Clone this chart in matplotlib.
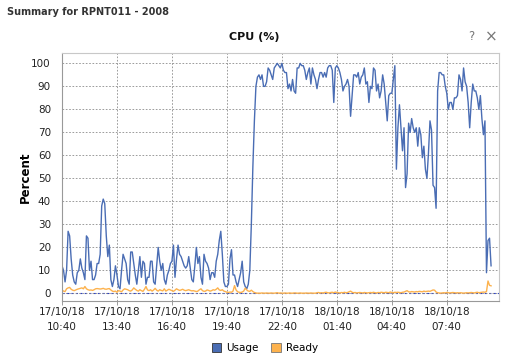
import numpy as np
import pandas as pd
import matplotlib
matplotlib.use('Agg')
import matplotlib.pyplot as plt
import matplotlib.dates as mdates
from matplotlib.patches import Patch

# CPU samples every 5 minutes, starting 17/10/18 10:40
start = '2018-10-17 10:40'
step_min = 5

usage = [
    12, 10, 5, 10, 27, 25, 15, 8, 5, 4,
    9, 10, 15, 11, 9, 6, 25, 24, 10, 14,
    6, 6, 8, 13, 13, 17, 38, 41, 39, 25,
    16, 21, 6, 3, 6, 12, 8, 3, 2, 10,
    17, 15, 13, 6, 4, 18, 18, 13, 8, 4,
    10, 16, 7, 14, 13, 4, 7, 7, 14, 14,
    5, 4, 12, 20, 14, 10, 13, 6, 4, 8,
    10, 13, 14, 21, 7, 15, 21, 17, 16, 14,
    12, 11, 12, 16, 11, 6, 5, 12, 20, 13,
    16, 7, 4, 17, 14, 13, 11, 6, 9, 9,
    7, 14, 17, 23, 27, 17, 5, 3, 3, 4,
    15, 19, 8, 8, 5, 3, 6, 9, 14, 5,
    3, 2, 4, 10, 30, 55, 75, 90, 94, 95,
    93, 95, 90, 90, 92, 98, 97, 95, 93, 98,
    99, 100, 99, 98, 100, 97, 96, 96, 89, 91,
    88, 93, 88, 87, 98, 98, 100, 99, 99, 97,
    93, 96, 98, 91, 98, 95, 93, 89, 93, 96,
    96, 94, 96, 94, 98, 99, 99, 97, 83, 98,
    99, 98, 96, 93, 88, 90, 91, 93, 90, 77,
    86, 95, 95, 94, 96, 91, 94, 95, 98, 91,
    92, 83, 90, 89, 98, 97, 88, 91, 85, 88,
    95, 91, 83, 75, 86, 87, 87, 93, 99, 54,
    72, 82, 72, 62, 72, 46, 52, 74, 70, 76,
    72, 70, 72, 64, 72, 69, 59, 64, 54, 50,
    61, 75, 71, 47, 46, 37, 88, 96, 96, 95,
    95, 90, 87, 80, 83, 83, 80, 85, 85, 86,
    95, 93, 88, 98, 92, 90, 83, 72, 83, 91,
    88, 88, 85, 80, 86, 76, 69, 75, 9, 23,
    24, 12,
]

ready = [
    1.5, 1.0, 0.8, 2.0, 2.4, 2.6, 1.8, 1.4, 1.2, 1.5,
    1.8, 2.0, 2.2, 2.4, 2.0, 3.0, 2.0, 1.6, 1.4, 1.5,
    1.3, 1.6, 2.0, 2.1, 2.0, 1.9, 2.0, 2.2, 1.9, 1.8,
    2.0, 2.1, 1.5, 1.0, 0.8, 1.0, 0.5, 1.2, 1.0, 0.7,
    1.5, 2.0, 1.8, 1.6, 1.2, 1.0, 1.5, 2.4, 1.8, 1.3,
    1.0, 1.6, 1.2, 0.9, 1.8, 3.0, 1.5, 1.2, 1.6, 1.0,
    1.5, 2.2, 1.4, 1.0, 1.6, 1.3, 1.1, 2.0, 1.0, 1.4,
    1.8, 1.5, 1.2, 0.9, 1.4, 2.0, 1.6, 1.3, 1.5, 1.8,
    1.4, 1.2, 1.4, 1.6, 1.3, 1.1, 1.2, 1.0, 0.8, 1.0,
    1.6, 2.0, 1.2, 0.9, 1.0, 1.5, 1.3, 1.0, 1.2, 1.6,
    1.4, 1.8, 2.4, 1.5, 1.3, 1.6, 1.0, 0.8, 0.5, 0.4,
    0.6, 0.5, 1.0, 3.4, 1.5, 0.7, 0.5, 0.4, 0.6, 1.0,
    2.3, 1.5, 1.0, 0.9, 1.4, 0.8, 0.4, 0.2, 0.1, 0.1,
    0.1, 0.2, 0.1, 0.1, 0.2, 0.1, 0.1, 0.2, 0.1, 0.1,
    0.2, 0.3, 0.1, 0.2, 0.1, 0.1, 0.2, 0.1, 0.1, 0.2,
    0.1, 0.1, 0.2, 0.2, 0.1, 0.1, 0.2, 0.1, 0.1, 0.1,
    0.2, 0.1, 0.1, 0.2, 0.1, 0.1, 0.1, 0.3, 0.4, 0.2,
    0.3, 0.2, 0.4, 0.5, 0.3, 0.2, 0.4, 0.5, 0.3, 0.6,
    0.4, 0.3, 0.2, 0.4, 0.3, 0.5, 0.3, 0.4, 0.7, 1.0,
    0.5, 0.3, 0.4, 0.2, 0.3, 0.4, 0.3, 0.2, 0.4, 0.3,
    0.2, 0.3, 0.4, 0.3, 0.5, 0.3, 0.2, 0.4, 0.3, 0.5,
    0.4, 0.3, 0.5, 0.4, 0.3, 0.6, 0.4, 0.3, 0.5, 0.4,
    0.5, 0.4, 0.3, 0.5, 0.6, 0.9, 1.2, 0.7, 0.6, 0.8,
    0.7, 0.6, 0.8, 0.7, 0.9, 0.8, 0.7, 1.0, 0.8, 0.9,
    1.0, 0.9, 1.2, 1.5, 1.4, 0.6, 0.3, 0.2, 0.1, 0.2,
    0.3, 0.2, 0.4, 0.3, 0.2, 0.3, 0.4, 0.3, 0.2, 0.3,
    0.2, 0.3, 0.2, 0.1, 0.2, 0.3, 0.2, 0.3, 0.4, 0.3,
    0.2, 0.4, 0.5, 0.3, 0.4, 0.5, 0.6, 0.5, 0.8, 5.4,
    3.5, 3.3,
]

tick_start = '2018-10-17 10:40'
tick_every_h = 3
n_ticks = 8

times = pd.date_range(start, periods=len(usage), freq=f'{step_min}min')
ticks = pd.date_range(tick_start, periods=n_ticks, freq=f'{tick_every_h}h')

usage_color = '#4a6db4'
ready_color = '#fdb24d'
grid_color = '#8c8c8c'
frame_color = '#c8c8c8'

fig = plt.figure(figsize=(5.12, 3.58), dpi=100)
ax = fig.add_axes([62 / 512, 1 - 301 / 358, 437 / 512, 248 / 358])

ax.plot(times, usage, color=usage_color, linewidth=1.0)
ax.plot(times, ready, color=ready_color, linewidth=1.0)
ax.axhline(0, color='#2a3fc8', linewidth=0.8, linestyle=(0, (2, 2)), zorder=1)

ax.set_ylim(-3.3, 104.5)
ax.set_yticks(range(0, 101, 10))
x0 = mdates.date2num(pd.Timestamp(tick_start))
ax.set_xlim(x0, x0 + 23.85 / 24)
ax.set_xticks(ticks)
ax.set_xticklabels([t.strftime('%d/%m/%y\n%H:%M') for t in ticks])

ax.grid(True, color=grid_color, linestyle=(0, (2, 2)), linewidth=0.6)
ax.tick_params(axis='both', labelsize=7.5, colors='#222222', length=3, width=0.6)
ax.tick_params(axis='x', color=grid_color, pad=1)
ax.tick_params(axis='y', length=0, pad=8)
for lab in ax.get_xticklabels():
    lab.set_linespacing(1.7)
for side, sp in ax.spines.items():
    sp.set_color(frame_color)
    sp.set_linewidth(0.8)
ax.spines['bottom'].set_color('#999999')
ax.spines['left'].set_color('#999999')

ax.set_ylabel('Percent', fontsize=8.5, fontweight='bold')
ax.yaxis.set_label_coords(-30 / 437, 0.5)

fig.text(7 / 512, 1 - 12 / 358, 'Summary for RPNT011 - 2008', fontsize=7,
         fontweight='bold', color='#333333', va='center', ha='left')
fig.text(254 / 512, 1 - 37 / 358, 'CPU (%)', fontsize=8, fontweight='bold',
         color='#111111', va='center', ha='center')
fig.text(471 / 512, 1 - 37 / 358, '?', fontsize=8.5, color='#777777',
         va='center', ha='center')
fig.text(491 / 512, 1 - 37 / 358, '\u00d7', fontsize=11, color='#777777',
         va='center', ha='center')

handles = [Patch(facecolor=usage_color, edgecolor='#333333', linewidth=0.6, label='Usage'),
           Patch(facecolor=ready_color, edgecolor='#777777', linewidth=0.6, label='Ready')]
fig.legend(handles=handles, loc='center', bbox_to_anchor=(265 / 512, 1 - 348 / 358),
           ncol=2, frameon=False, fontsize=7.5, handlelength=0.9, handleheight=0.9,
           handletextpad=0.5, columnspacing=1.2)

fig.savefig('out.png', dpi=100)
